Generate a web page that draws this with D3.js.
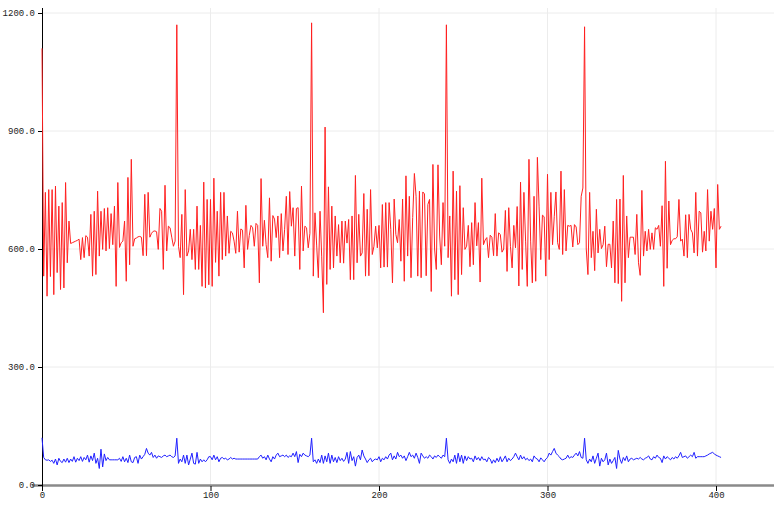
<!DOCTYPE html>
<html>
<head>
<meta charset="utf-8">
<script src="https://cdn.jsdelivr.net/npm/d3@7"></script>
<style>
  body { margin: 0; background: #fff; }
  .tick text { font-family: "Liberation Mono", monospace; font-size: 9px; fill: #222; }
</style>
</head>
<body>
<div id="chart"></div>
<script>
// red series (index 0..403)
let redValues = [
  1110,531,744,480,751,530,751,484,760,540, 709,497,718,501,769,565,671,614,616,618,
  620,622,625,573,629,578,634,630,582,688, 531,696,535,747,582,696,599,703,595,705,
  601,690,611,709,505,769,604,616,620,671, 518,782,560,
  828,607,626,628,631,632,630,583,739,583,744,630,640,645,646,644,599,703,696,548,762,595,658,654,630,607,620,
  1170,607,578,688,484,751,582,595,650,573, 650,548,709,548,660,505,770,501,726,509,
  726,505,780,566,696,531,744,573,744,582, 684,589,645,641,620,589,696,592,
  651,648,552,711,599,634,660,654,607,665, 660,514,779,607,673,611,578,730,569,685,
  676,629,684,578,690,595,650,734,586,746, 658,705,582,703,705,548,760,595,658,654, 603,640,
  1175,531,692,610,527,696,580,438,910,510, 758,548,709,552,684,582,662,565,671,564, 671,615,675,522,684,522,
  787,565,688,582,590,741,531,701,532,751, 586,607,658,603,660,552,713,554,718,554,
  718,650,514,727,637,616,675,569,727,518, 786,582,734,527,680,792,734,531,747,527,
  745,740,532,713,726,492,815,600,548,814,
  633,560,718,607,1170,
  578,684,480,798,522,747,484,761,535,705, 599,607,660,555,667,560,718,608,667,516,
  780,611,623,629,578,635,630,583,690,582, 641,637,592,600,698,543,705,607,552,660,
  603,708,506,770,548,744,620,505,
  828,620,514,734,518,833,709,573,686,682, 531,790,573,744,611,682,745,616,599,798,
  586,751,595,660,658,660,605,662,656,611, 616,734,755,
  1165,600,535,744,578,645,545,701,590,650, 601,611,658,555,612,612,552,671,514,726,
  512,727,467,787,514,684,578,630,630,630, 586,688,565,
  533,749,582,645,595,650,599,641,599,654, 650,660,607,710,505,823,551,722,611,622,
  626,626,631,726,620,625,582,687,578,688, 650,641,590,744,582,696,692,592,645,595,
  751,620,696,650,703,552,764,650,658
];

// blue series (index 0..403)
let blueValues = [
  120,70,64,63,64,60,63,55,66,51, 68,60,57,66,58,68,57,66,60,72,
  58,68,62,72,60,70,64,76,58,74, 62,81,55,68,42,91,46,79,62,70,
  64,64,64,64,64,64,68,60,72,59, 68,57,76,59,57,70,72,55,76,66,
  72,78,93,81,76,83,70,76,68,74, 72,70,74,76,72,74,76,72,70,74,
  119,55,66,59,76,55,76,51,66,81, 55,53,83,55,66,59,64,59,64,72,
  72,64,76,64,72,59,68,70,66,68, 64,66,70,66,68,66,66,66,66,66,
  66,66,66,66,66,66,66,66,66,72, 76,68,72,64,76,66,59,72,66,76,
  81,72,74,76,72,76,70,74,72,81, 72,85,57,78,72,81,76,74,72,76,
  119,59,64,55,66,57,76,55,74,59, 81,55,76,59,70,57,72,62,68,60,
  66,83,55,85,62,72,48,70,76,64, 89,74,66,57,64,68,59,64,66,64,
  72,59,68,64,72,66,76,81,64,74, 66,83,72,76,68,74,62,72,83,72,
  76,68,81,70,55,81,74,68,72,68, 76,72,66,74,70,76,72,68,76,72,
  119,64,55,66,59,76,55,81,59,76, 55,74,62,72,66,68,59,74,64,70,
  62,72,64,66,59,70,66,55,64,57, 68,59,72,59,66,74,59,68,62,66,
  72,81,72,64,76,66,72,64,68,62, 66,59,74,68,66,59,69,64,59,66,
  70,81,76,85,93,81,76,72,66,64, 66,68,76,68,72,70,76,81,74,85,
  70,68,119,64,55,66,59,74,55,68, 81,48,68,59,64,81,51,66,55,62,
  70,42,88,66,55,70,62,74,59,66, 68,64,66,68,66,70,66,64,68,70,
  74,66,64,72,68,76,70,68,57,74, 66,72,68,64,70,66,72,68,74,83,
  70,72,74,68,72,76,72,83,68,72, 72,72,72,72,74,76,79,81,83,79,
  76,74,72,70
];

let xTicks = [0, 100, 200, 300, 400];
let yTicks = [0, 300, 600, 900, 1200];

let width = 774, height = 512;

let svg = d3.select("#chart")
  .append("svg")
  .attr("width", width)
  .attr("height", height);

let x = d3.scaleLinear().domain([0, 400]).range([42, 716]);
let y = d3.scaleLinear().domain([0, 1200]).range([485, 13]);

// grid lines
svg.append("g")
  .selectAll("line")
  .data(yTicks.slice(1))
  .enter()
  .append("line")
  .attr("x1", 42).attr("x2", width)
  .attr("y1", d => y(d)).attr("y2", d => y(d))
  .attr("stroke", "#ececec");

svg.append("g")
  .selectAll("line")
  .data(xTicks.slice(1))
  .enter()
  .append("line")
  .attr("x1", d => x(d)).attr("x2", d => x(d))
  .attr("y1", 8).attr("y2", 485)
  .attr("stroke", "#ececec");

// x axis
svg.append("line")
  .attr("x1", 32).attr("x2", width)
  .attr("y1", 485.5).attr("y2", 485.5)
  .attr("stroke", "#8a8a8a")
  .attr("stroke-width", 2.5);

let xAxis = svg.append("g")
  .attr("transform", `translate(0,${y(0) + 1})`)
  .call(d3.axisBottom(x).tickValues(xTicks).tickSize(5).tickFormat(d3.format("d")));
xAxis.select(".domain").remove();
xAxis.selectAll(".tick line").attr("stroke", "#000");
xAxis.selectAll(".tick text").attr("dy", "0.75em").attr("y", 5);

// y axis
let yAxis = svg.append("g")
  .attr("transform", "translate(42,0)")
  .call(d3.axisLeft(y).tickValues(yTicks).tickSize(4).tickFormat(d3.format(".1f")));
yAxis.select(".domain").remove();
yAxis.selectAll(".tick line").attr("stroke", "#000");
yAxis.selectAll(".tick text").attr("x", -7);

svg.append("line")
  .attr("x1", 42.5).attr("x2", 42.5)
  .attr("y1", 8).attr("y2", 486)
  .attr("stroke", "#000")
  .attr("stroke-width", 1);

// lines
let line = d3.line()
  .x((d, i) => x(i))
  .y(d => y(d));

svg.append("path")
  .datum(redValues)
  .attr("fill", "none")
  .attr("stroke", "#ff2020")
  .attr("stroke-width", 1)
  .attr("d", line);

svg.append("path")
  .datum(blueValues)
  .attr("fill", "none")
  .attr("stroke", "#2020ff")
  .attr("stroke-width", 1)
  .attr("d", line);
</script>
</body>
</html>
